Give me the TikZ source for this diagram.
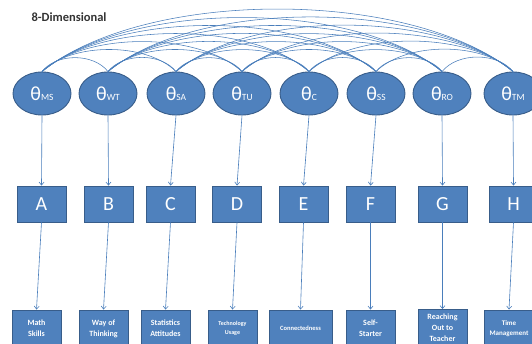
\documentclass[tikz,border=0pt]{standalone}
\usepackage{fontspec}
\setmainfont{Carlito}
\usetikzlibrary{shapes.geometric,arrows.meta,calc}
\definecolor{ofill}{HTML}{4F81BD}
\definecolor{oline}{HTML}{385D8A}
\definecolor{arcc}{HTML}{4A7EBB}
\newcommand\lvar[1]{{\fontsize{20}{20}\selectfont θ}{\fontsize{9.5}{10}\selectfont #1}}
\begin{document}
\begin{tikzpicture}[x=1pt,y=-1pt,
 lat/.style={ellipse, draw=oline, fill=ofill, line width=0.9pt, minimum width=58pt, minimum height=43pt, inner sep=0pt, text=white},
 ind/.style={rectangle, draw=oline, fill=ofill, line width=0.9pt, minimum width=49pt, minimum height=36pt, inner sep=0pt, text=white, font=\fontsize{20}{20}\selectfont},
 lab/.style={rectangle, draw=oline, fill=ofill, line width=0.9pt, minimum width=49pt, minimum height=37pt, inner sep=1pt, text=white, align=center, font=\bfseries\fontsize{8}{11}\selectfont},
 cov/.style={draw=arcc, line width=0.55pt},
 load/.style={draw=arcc, line width=0.6pt, -{Straight Barb[length=3pt,width=5pt]}}]
\useasboundingbox (0,0) rectangle (532,343);
\clip (0,0) rectangle (532,343);
\node[anchor=base west, text=black!80, font=\bfseries\fontsize{12.5}{13}\selectfont] (title) at (28,21) {8-Dimensional};
% latent variables
\node[lat] (e1) at (42,93.5) {\lvar{MS}};
\node[lat] (e2) at (108,93.5) {\lvar{WT}};
\node[lat] (e3) at (176,93.5) {\lvar{SA}};
\node[lat] (e4) at (242,93.5) {\lvar{TU}};
\node[lat] (e5) at (309,93.5) {\lvar{C}};
\node[lat] (e6) at (376,93.5) {\lvar{SS}};
\node[lat] (e7) at (442,93.5) {\lvar{RO}};
\node[lat] (e8) at (513,93.5) {\lvar{TM}};
% indicator boxes
\node[ind] (b1) at (41.5,204) {A};
\node[ind] (b2) at (108.5,204) {B};
\node[ind] (b3) at (170.5,204) {C};
\node[ind] (b4) at (237,204) {D};
\node[ind] (b5) at (303.5,204) {E};
\node[ind] (b6) at (370.5,204) {F};
\node[ind] (b7) at (442.5,204) {G};
\node[ind] (b8) at (513.5,204) {H};
% label boxes
\node[lab] (c1) at (36.5,328.5) {Math\\Skills};
\node[lab] (c2) at (103.5,328.5) {Way of\\Thinking};
\node[lab] (c3) at (165.5,328.5) {Statistics\\Attitudes};
\node[lab, font=\bfseries\fontsize{6}{9}\selectfont] (c4) at (232.5,328.5) {Technology\\Usage};
\node[lab, minimum width=63pt, font=\bfseries\fontsize{6.5}{8}\selectfont] (c5) at (300.5,328.5) {Connectedness};
\node[lab] (c6) at (370.5,328.5) {Self-\\Starter};
\node[lab] (c7) at (442.5,328) {Reaching\\Out to\\Teacher};
\node[lab, font=\bfseries\fontsize{7}{10}\selectfont] (c8) at (509,328.5) {Time\\Management};
% loadings
\foreach \k in {1,...,8}{
  \draw[load] (e\k.south) -- (b\k.north);
  \draw[load] (b\k.south) -- (c\k.north);
}
% covariances
\foreach \i in {1,...,7}{
  \pgfmathtruncatemacro\ii{\i+1}
  \foreach \j in {\ii,...,8}{
    \draw[cov] let \p1=(e\i.north), \p2=(e\j.north), \n1={\x2-\x1} in
      (\p1) .. controls +({0.22*\n1},{8pt+0.16*\n1}) and +({-0.22*\n1},{8pt+0.16*\n1}) .. (\p2);
  }
}
\end{tikzpicture}
\end{document}
